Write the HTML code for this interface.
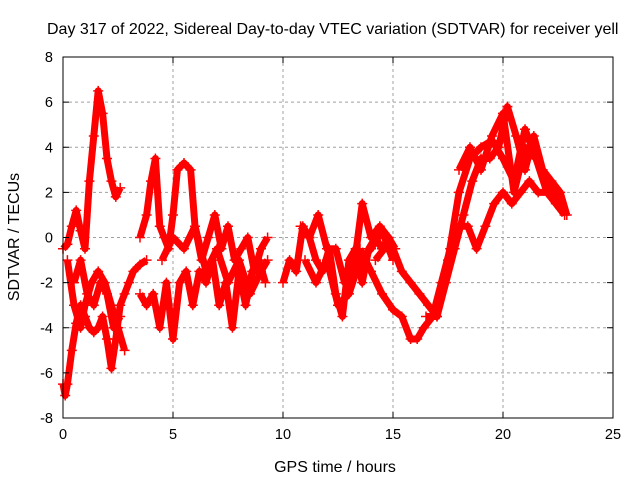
<!DOCTYPE html>
<html><head><meta charset="utf-8"><style>
body{margin:0;background:#fff;}
svg{display:block;font-family:"Liberation Sans",sans-serif;}
</style></head><body>
<svg id="chart" width="640" height="480" viewBox="0 0 640 480">
<rect width="640" height="480" fill="#fff"/>
<text x="47" y="34" font-size="16" fill="#000">Day 317 of 2022, Sidereal Day-to-day VTEC variation (SDTVAR) for receiver yell</text>
<g id="grid"></g>
<g id="series"></g>
<g id="axes"></g>
<text x="335" y="472" font-size="16" text-anchor="middle">GPS time / hours</text>
<text x="0" y="0" font-size="16" text-anchor="middle" transform="translate(19,237) rotate(-90)">SDTVAR / TECUs</text>
</svg>
<script>
const xTicks=[0,5,10,15,20,25];
const yTicks=[-8,-6,-4,-2,0,2,4,6,8];
const tA=[0,0.2,0.4,0.6,0.8,1.0,1.2,1.4,1.6,1.8,2.0,2.2,2.4,2.6];
const vA=[-0.5,-0.3,0.5,1.2,0.3,-0.5,2.5,4.5,6.5,5.5,3.5,2.5,1.8,2.2];
const tB=[0,0.1,0.2,0.4,0.6,0.8,1.0,1.2,1.4,1.6,1.8,2.0,2.2,2.4,2.6,2.8,3.0,3.2,3.5,3.8];
const vB=[-6.5,-7,-6.5,-5,-3.8,-3,-3.5,-4,-4.2,-4,-3.5,-4.5,-5.8,-4.5,-3,-2.5,-2,-1.5,-1.2,-1];
const tC=[0.2,0.5,0.8,1.0,1.3,1.6,1.9,2.2,2.5,2.8];
const vC=[-1,-3,-4,-3,-2,-1.5,-2,-3,-4,-5];
const tD=[3.5,3.8,4.0,4.2,4.4,4.6,4.8,5.0,5.2,5.5,5.8,6.0,6.3,6.6,6.9,7.2,7.5,7.8,8.1,8.4,8.7,9.0,9.3];
const vD=[0,1,2.5,3.5,0.5,0,-0.5,1,3.0,3.3,3.0,0.5,-1,0,1,-0.5,0.5,-1,-0.5,0,-1.5,-0.5,0];
const tE=[3.5,3.8,4.1,4.4,4.7,5.0,5.3,5.6,5.9,6.2,6.5,6.8,7.1,7.4,7.7,8.0,8.3,8.6,8.9,9.2];
const vE=[-2.5,-3,-2.5,-4,-2,-4.5,-2,-1.5,-3,-1.5,-2,-1,-3,-2,-4,-1.5,-3,-1.5,-1,-2];
const tF=[10,10.3,10.6,10.9,11.2,11.5,11.8,12.1,12.4,12.7,13.0,13.3,13.6,13.9,14.2,14.5,14.8,15.1];
const vF=[-2,-1,-1.5,0.5,0,-1,-1.5,-0.5,-2.5,-3.5,-1,-0.5,-2,-0.5,0,-0.5,0,-0.5];
const tG=[10.8,11.2,11.6,12,12.4,12.8,13.2,13.6,14,14.4,14.8];
const vG=[0.5,0,1,-0.5,-0.5,-2,-1.5,1.5,0,0.5,0];
const tH=[14.2,14.6,15,15.4,15.8,16.2,16.6,17,17.4,17.8,18.2,18.6,19,19.4,19.8,20.2,20.6,21,21.4,21.8,22.2,22.6,22.9];
const vH=[-1,-0.5,-0.5,-1.5,-2,-2.5,-3,-3.5,-2,-0.5,1,2.5,3.5,3.5,4,5.8,4.5,3,4.5,3,2.5,2,1];
const tI=[13.5,14,14.5,15,15.4,15.8,16.1,16.4,16.8,17.2,17.6,18,18.4,18.8,19.2,19.6,20,20.4,20.8,21.2,21.6,22,22.4,22.8];
const vI=[-0.5,-1.5,-2.5,-3.2,-3.5,-4.5,-4.5,-4,-3.5,-2,-0.5,0.5,0.5,-0.5,0.5,1.5,2,1.5,2,2.5,2,2,1.5,1];
const tJ=[16.5,17,17.5,18,18.5,19,19.5,20,20.5,21,21.5,22,22.5];
const vJ=[-3.5,-3.5,-1,2,3.5,4,4.3,3.5,2.5,4.8,3.5,2.5,1.5];
const tK=[4.5,5,5.5,6,6.5,7,7.5,8,8.5,9,9.3];
const vK=[-1,0,-0.5,0.5,-1.5,-0.5,-2,-1,-2.5,-1.5,-1];
const tL=[11,11.5,12,12.5,13,13.5,14,14.5,15];
const vL=[-1,-2,-1,-3,-2.5,-1,-0.5,0.3,-1];
const tM=[0.5,0.8,1.1,1.4,1.7,2.0,2.3,2.6];
const vM=[-2,-1,-2.5,-3,-2,-2.5,-4,-3.5];
const tN=[18,18.5,19,19.5,20,20.5,21,21.5,22];
const vN=[3,4,3,4.5,5.5,2,4,3.5,2];

const X0=63,X1=613,Y0=418,Y1=57;
const sx=t=>X0+(t-0)/(25-0)*(X1-X0);
const sy=v=>Y0-(v+8)/16*(Y0-Y1);
const NS="http://www.w3.org/2000/svg";
function mk(tag,attrs,parent){const e=document.createElementNS(NS,tag);for(const k in attrs)e.setAttribute(k,attrs[k]);parent.appendChild(e);return e;}
const grid=document.getElementById('grid'),axes=document.getElementById('axes'),ser=document.getElementById('series');
xTicks.forEach(t=>{
  const x=sx(t);
  if(t>0&&t<25){const g=mk('line',{x1:x,x2:x,y1:Y1,y2:Y0,stroke:'#a0a0a0','stroke-dasharray':'3,3'},grid);
  
  }
  mk('line',{x1:x,x2:x,y1:Y0,y2:Y0-6,stroke:'#000'},axes);
  mk('line',{x1:x,x2:x,y1:Y1,y2:Y1+6,stroke:'#000'},axes);
  const l=mk('text',{x:x,y:Y0+21,'font-size':14.5,'text-anchor':'middle'},axes);
  l.textContent=t;
  
  
});
yTicks.forEach(v=>{
  const y=sy(v);
  if(v>-8&&v<8){const g=mk('line',{x1:X0,x2:X1,y1:y,y2:y,stroke:'#a0a0a0','stroke-dasharray':'3,3'},grid);
  
  }
  mk('line',{x1:X0,x2:X0+6,y1:y,y2:y,stroke:'#000'},axes);
  mk('line',{x1:X1,x2:X1-6,y1:y,y2:y,stroke:'#000'},axes);
  const l=mk('text',{x:X0-10,y:y+5,'font-size':14.5,'text-anchor':'end'},axes);
  l.textContent=v;
  
  
});
const fr=mk('rect',{x:X0,y:Y1,width:X1-X0,height:Y0-Y1,fill:'none',stroke:'#000'},axes);


const tracks=[[tA,vA],[tB,vB],[tC,vC],[tD,vD],[tE,vE],[tF,vF],[tG,vG],[tH,vH],[tI,vI],[tJ,vJ],[tK,vK],[tL,vL],[tM,vM],[tN,vN]];
tracks.forEach(([ts,vs])=>{
  const pts=ts.map((t,i)=>sx(t)+','+sy(vs[i])).join(' ');
  const pl=mk('polyline',{points:pts,fill:'none',stroke:'#ff0000','stroke-width':7,'stroke-linejoin':'round'},ser);
  
  
  ts.forEach((t,i)=>{
    const x=sx(t),y=sy(vs[i]);
    const p=mk('path',{d:`M${x-5},${y}H${x+5}M${x},${y-5}V${y+5}`,stroke:'#ff0000','stroke-width':1.5},ser);
    
    
  });
});
</script>
</body></html>
